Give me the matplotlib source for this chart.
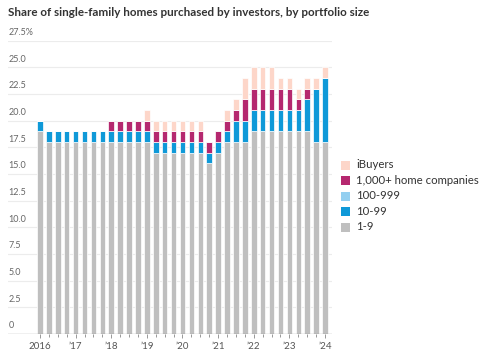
import matplotlib
matplotlib.use("Agg")
import matplotlib.pyplot as plt
import numpy as np

# Quarterly data 2016 Q1 .. 2024 Q1 (share %, stacked)
quarters = ["2016Q1","2016Q2","2016Q3","2016Q4","2017Q1","2017Q2","2017Q3","2017Q4",
            "2018Q1","2018Q2","2018Q3","2018Q4","2019Q1","2019Q2","2019Q3","2019Q4",
            "2020Q1","2020Q2","2020Q3","2020Q4","2021Q1","2021Q2","2021Q3","2021Q4",
            "2022Q1","2022Q2","2022Q3","2022Q4","2023Q1","2023Q2","2023Q3","2023Q4","2024Q1"]
s_1_9 =      [19,18,18,18,18,18,18,18,18,18,18,18,18,17,17,17,17,17,17,16,17,18,18,18,19,19,19,19,19,19,19,18,18]
s_10_99 =    [1, 1, 1, 1, 1, 1, 1, 1, 1, 1, 1, 1, 1, 1, 1, 1, 1, 1, 1, 1, 1, 1, 2, 2, 2, 2, 2, 2, 2, 2, 3, 5, 6]
s_100_999 =  [0]*33
s_1000 =     [0, 0, 0, 0, 0, 0, 0, 0, 1, 1, 1, 1, 1, 1, 1, 1, 1, 1, 1, 1, 1, 1, 1, 2, 2, 2, 2, 2, 2, 1, 1, 0, 0]
s_ibuyers =  [0, 0, 0, 0, 0, 0, 0, 0, 0, 0, 0, 0, 1, 1, 1, 1, 1, 1, 1, 0, 0, 1, 1, 2, 2, 2, 2, 1, 1, 1, 1, 1, 1]

year_labels = ["2016", "\u201917", "\u201918", "\u201919", "\u201920", "\u201921", "\u201922", "\u201923", "\u201924"]
y_ticks = [0, 2.5, 5.0, 7.5, 10.0, 12.5, 15.0, 17.5, 20.0, 22.5, 25.0, 27.5]

series = [("1-9", s_1_9, "#bfbfbf"),
          ("10-99", s_10_99, "#0f99d8"),
          ("100-999", s_100_999, "#93cff0"),
          ("1,000+ home companies", s_1000, "#b5286f"),
          ("iBuyers", s_ibuyers, "#fdd6c9")]

plt.rcParams['font.family'] = ['Lato', 'DejaVu Sans']

W, H = 485, 360
fig = plt.figure(figsize=(W/100, H/100), dpi=100)

# axes in pixel coords
left_px, right_px = 8, 332
top_px, bottom_px = 40.6, 334
ax = fig.add_axes([left_px/W, 1 - bottom_px/H, (right_px-left_px)/W, (bottom_px-top_px)/H])

n = len(quarters)
x = np.arange(n)
px_per_bar = (325 - 40) / 32
xmin = -(40 - left_px) / px_per_bar
xmax = 32 + (right_px - 325) / px_per_bar
ax.set_xlim(xmin, xmax)
ax.set_ylim(0, 27.5)

bottom = np.zeros(n)
for name, vals, col in series:
    v = np.array(vals, dtype=float)
    ax.bar(x, v, bottom=bottom, width=0.62, color=col, edgecolor="white", linewidth=0.5, zorder=3)
    bottom += v

for sp in ax.spines.values():
    sp.set_visible(False)
ax.set_yticks([])
for t in y_ticks:
    if t > 0:
        ax.axhline(t, color="#ececec", linewidth=0.8, zorder=1)
    lab = "27.5%" if t == 27.5 else ("0" if t == 0 else f"{t:.1f}")
    ax.text(xmin + 0.05, t + 0.35, lab, ha="left", va="bottom", fontsize=6.5, color="#666666", zorder=4)
ax.axhline(0, color="#888888", linewidth=0.9, zorder=4)

ax.set_xticks(x, minor=True)
ax.set_xticks(x[::4])
ax.set_xticklabels(year_labels)
ax.tick_params(axis="x", which="both", length=3, width=0.6, color="#888888", pad=3,
               labelsize=7, labelcolor="#555555")
ax.tick_params(axis="x", which="minor", length=2.5)

fig.text(8/W, 1 - 12/H, "Share of single-family homes purchased by investors, by portfolio size",
         ha="left", va="center", fontsize=8.4, fontweight="bold", color="#333333")

# Legend
leg_items = list(reversed(series))
y0 = 165
for i, (name, vals, col) in enumerate(leg_items):
    yy = y0 + i * 15.5
    fig.patches.append(plt.Rectangle((341/W, 1 - (yy + 4.5)/H), 9/W, 9/H, transform=fig.transFigure,
                                     facecolor=col, edgecolor="none"))
    fig.text(356/W, 1 - yy/H, name, ha="left", va="center", fontsize=8.2, color="#333333")

fig.savefig("out.png", dpi=100)
